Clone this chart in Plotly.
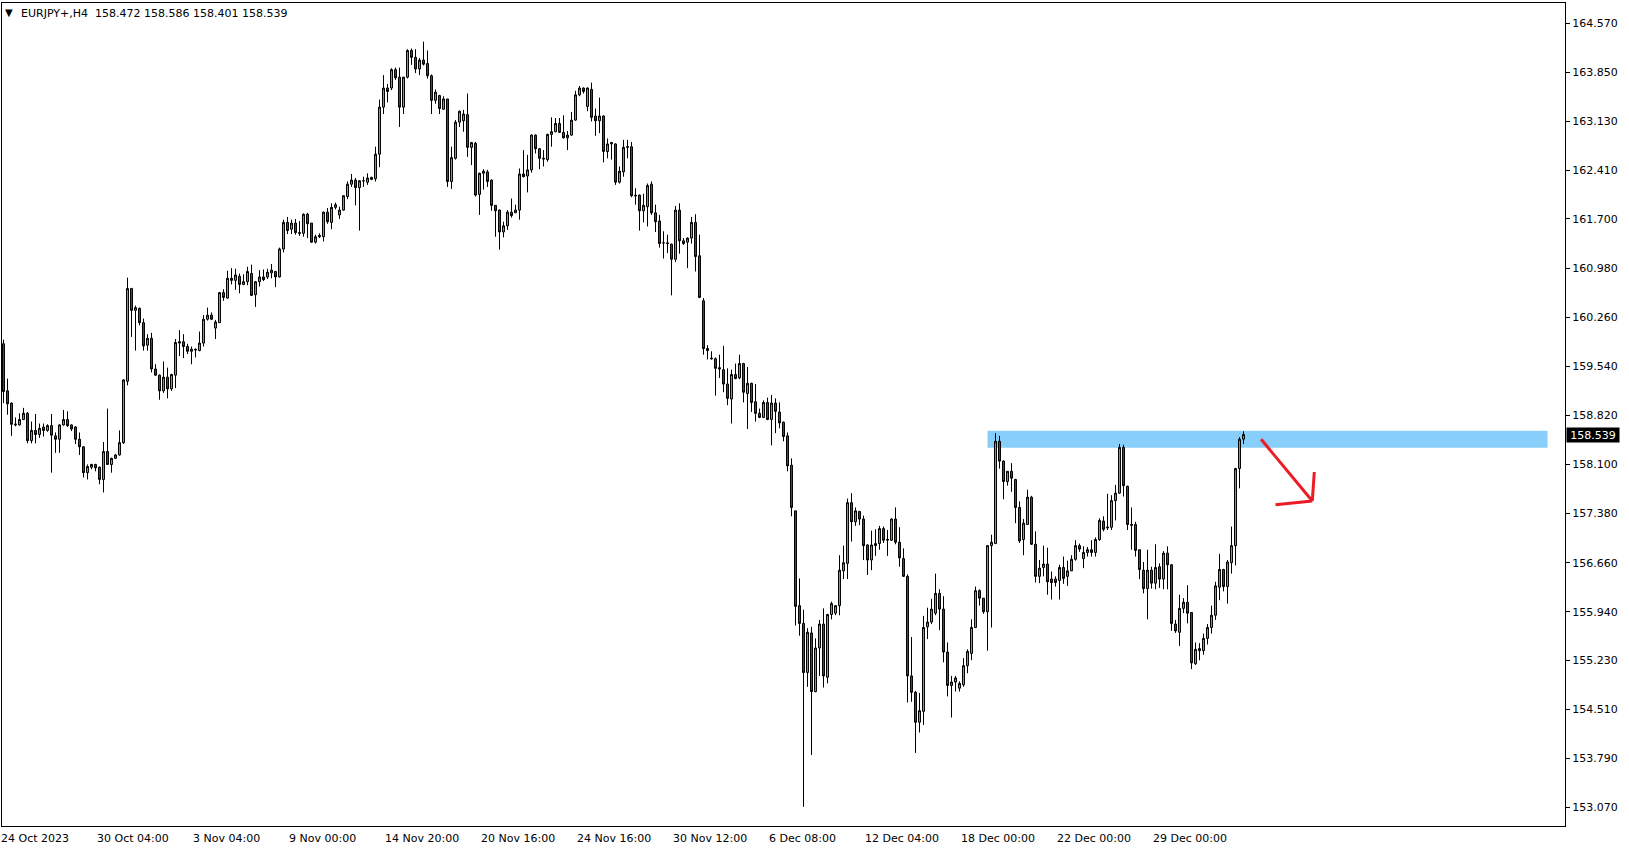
import plotly.graph_objects as go

# ---------------- data (EURJPY+, H4) ----------------
opens = [
159.87,159.18,159.00,158.68,158.68,158.76,158.85,158.45,158.60,158.54,
158.65,158.60,158.67,158.52,158.47,158.68,158.76,158.68,158.65,158.47,
158.36,157.98,158.06,158.10,158.06,157.88,158.29,158.10,158.19,158.24,
158.42,159.32,160.68,160.36,160.39,160.18,159.85,159.95,159.50,159.41,
159.18,159.38,159.21,159.41,159.88,159.90,159.83,159.76,159.79,159.77,
159.88,160.23,160.29,160.10,160.18,160.62,160.54,160.83,160.80,160.86,
160.74,160.78,160.90,160.59,160.78,160.85,160.85,160.91,160.93,160.85,
161.26,161.65,161.55,161.64,161.50,161.49,161.77,161.64,161.36,161.44,
161.44,161.80,161.65,161.87,161.76,161.83,162.03,162.21,162.27,162.16,
162.26,162.24,162.28,162.29,162.65,163.34,163.62,163.62,163.89,163.78,
163.34,163.78,164.17,164.07,163.90,164.03,163.98,163.80,163.44,163.51,
163.31,163.46,162.25,162.59,163.12,163.14,163.23,162.75,162.81,162.06,
162.37,162.39,162.27,161.90,161.83,161.51,161.60,161.80,161.79,161.83,
162.36,162.33,162.42,162.93,162.73,162.59,162.57,162.94,162.98,163.10,
162.97,162.89,162.93,163.15,163.52,163.62,163.35,163.60,163.21,163.14,
163.21,162.69,162.80,162.80,162.24,162.39,162.75,162.76,162.05,162.05,
161.82,161.88,162.21,161.79,161.67,161.35,161.35,161.33,161.11,161.83,
161.38,161.36,161.42,161.65,161.16,160.50,159.80,159.66,159.65,159.52,
159.49,159.28,159.06,159.42,159.37,159.58,159.14,159.29,159.02,158.85,
158.79,159.01,158.76,159.00,158.87,158.72,158.52,158.09,157.42,156.03,
155.77,155.05,155.63,154.77,155.41,155.76,154.98,155.90,155.92,156.03,
156.54,156.65,157.54,157.26,157.41,157.30,156.92,156.70,156.91,156.94,
157.16,156.99,156.99,157.30,156.96,156.72,156.46,155.00,154.76,154.32,
154.48,155.72,155.79,155.92,156.21,155.98,155.35,154.86,154.91,154.82,
154.87,155.15,155.33,155.71,156.25,156.14,155.94,156.91,156.94,158.44,
158.15,157.85,158.00,157.88,157.47,157.00,157.22,157.62,156.93,156.46,
156.59,156.64,156.42,156.42,156.40,156.59,156.46,156.54,156.71,156.91,
156.72,156.81,156.85,156.81,157.00,157.27,157.17,157.18,157.57,157.68,
158.35,157.78,157.22,157.22,156.85,156.55,156.28,156.55,156.36,156.60,
156.42,156.80,156.63,155.76,155.64,155.99,156.08,155.93,155.18,155.37,
155.37,155.55,155.71,155.89,156.30,156.56,156.31,156.66,156.91,158.04,
158.472,
]
highs = [
159.93,159.36,159.01,158.79,158.85,158.93,158.87,158.73,158.84,158.70,
158.70,158.69,158.84,158.57,158.69,158.90,158.88,158.69,158.66,158.57,
158.37,158.10,158.11,158.11,158.07,158.43,158.92,158.20,158.25,158.60,
159.35,160.84,160.69,160.43,160.40,160.24,160.01,160.03,159.57,159.42,
159.61,159.52,159.43,159.94,160.07,160.01,159.87,159.83,159.80,160.05,
160.29,160.40,160.33,160.22,160.63,160.67,160.94,160.98,160.97,160.90,
160.89,161.00,161.03,160.79,160.95,160.96,160.97,161.04,160.94,161.28,
161.69,161.73,161.69,161.70,161.67,161.78,161.79,161.64,161.47,161.49,
161.81,161.86,161.93,161.94,161.88,162.05,162.25,162.36,162.30,162.27,
162.32,162.37,162.32,162.76,163.45,163.81,163.68,163.91,163.92,163.92,
163.78,164.19,164.20,164.19,164.06,164.30,164.17,163.82,163.60,163.52,
163.50,163.46,162.76,163.15,163.29,163.30,163.54,162.83,162.83,162.38,
162.43,162.42,162.28,161.90,161.84,161.66,161.83,162.00,161.91,162.44,
162.71,162.64,162.94,162.94,162.74,162.71,162.95,163.19,163.18,163.18,
163.22,162.99,163.27,163.58,163.65,163.63,163.63,163.70,163.32,163.48,
163.22,162.88,162.83,162.81,162.47,162.86,162.86,162.83,162.15,162.06,
162.07,162.22,162.25,161.91,161.76,161.52,161.47,161.34,161.89,161.93,
161.42,161.43,161.73,161.77,161.47,160.54,159.85,159.76,159.67,159.71,
159.84,159.51,159.49,159.58,159.71,159.59,159.53,159.30,159.28,158.92,
159.04,159.08,159.12,159.07,159.01,158.73,158.57,158.19,157.42,156.43,
155.97,155.70,155.72,155.55,155.82,155.99,155.91,156.09,156.04,156.77,
156.91,157.60,157.68,157.47,157.42,157.35,156.93,157.13,157.15,157.20,
157.19,157.14,157.31,157.47,157.18,156.87,156.49,155.57,154.78,154.75,
155.88,156.00,156.13,156.50,156.27,156.17,155.49,155.00,155.00,154.92,
155.26,155.39,155.83,156.31,156.27,156.14,156.92,157.07,158.56,158.52,
158.16,158.00,158.12,157.89,157.56,157.30,157.73,157.64,157.12,156.70,
156.91,156.88,156.53,156.46,156.63,156.75,156.69,156.77,156.99,156.94,
156.90,156.89,156.99,157.03,157.31,157.34,157.67,157.65,157.80,158.40,
158.39,157.79,157.47,157.26,156.85,156.67,156.85,156.60,156.93,156.65,
156.83,156.90,156.64,155.82,156.19,156.14,156.33,155.93,155.49,155.48,
155.62,155.76,156.03,156.38,156.79,156.57,156.70,157.19,158.05,158.50,
158.586,
]
lows = [
159.00,158.83,158.52,158.66,158.67,158.75,158.41,158.41,158.41,158.49,
158.51,158.58,157.98,158.27,158.27,158.67,158.65,158.59,158.40,158.24,
157.91,157.88,158.03,158.00,157.81,157.69,158.10,157.98,158.18,158.23,
158.40,159.26,159.97,159.77,160.14,159.77,159.77,159.45,159.40,159.05,
159.15,159.07,159.18,159.22,159.69,159.66,159.72,159.57,159.67,159.76,
159.83,160.21,160.22,159.94,160.18,160.50,160.53,160.74,160.66,160.61,
160.73,160.73,160.57,160.41,160.71,160.79,160.82,160.83,160.70,160.84,
161.21,161.48,161.48,161.47,161.45,161.44,161.42,161.35,161.34,161.42,
161.37,161.63,161.55,161.84,161.70,161.82,161.99,162.17,161.90,161.53,
162.17,162.20,162.27,162.25,162.46,163.24,163.41,163.59,163.74,163.05,
163.24,163.76,163.96,163.84,163.81,163.95,163.76,163.24,163.39,163.24,
163.30,162.17,162.14,162.57,163.05,162.98,162.61,162.49,162.03,161.76,
162.13,162.17,161.82,161.44,161.25,161.43,161.54,161.72,161.79,161.69,
162.31,162.09,162.38,162.66,162.43,162.47,162.54,162.76,162.97,162.96,
162.88,162.71,162.92,163.14,163.50,163.54,163.28,163.13,162.92,162.96,
162.53,162.59,162.57,162.20,162.22,162.32,162.59,162.02,161.91,161.53,
161.65,161.59,161.76,161.51,161.28,161.12,161.20,160.58,161.07,161.19,
161.32,160.98,161.34,160.93,160.54,159.71,159.64,159.64,159.11,159.37,
159.16,158.97,158.70,159.35,159.35,159.01,158.62,158.87,158.73,158.78,
158.78,158.75,158.38,158.56,158.63,158.44,158.00,157.34,155.74,155.59,
153.08,154.84,153.84,154.76,155.00,154.83,154.89,155.83,155.89,155.89,
156.42,156.42,156.97,157.20,157.21,156.70,156.48,156.55,156.76,156.85,
156.95,156.76,156.98,156.93,156.60,156.45,154.61,154.62,153.87,154.17,
154.28,155.54,155.76,155.89,155.67,155.20,154.70,154.39,154.77,154.77,
154.84,155.04,155.23,155.70,156.03,155.91,155.37,155.71,156.94,158.04,
157.59,157.79,157.70,157.24,156.95,156.77,157.22,156.92,156.37,156.36,
156.46,156.19,156.12,156.31,156.12,156.35,156.32,156.54,156.69,156.82,
156.58,156.75,156.75,156.75,156.98,157.12,157.14,157.14,157.28,157.67,
157.63,157.14,156.85,156.75,156.42,156.21,155.83,156.28,156.27,156.29,
156.27,156.27,155.66,155.63,155.44,155.92,155.77,155.10,155.16,155.23,
155.31,155.46,155.62,155.82,156.11,156.24,156.06,156.50,156.62,157.75,
158.401,
]
closes = [
159.17,158.99,158.69,158.69,158.76,158.85,158.45,158.60,158.54,158.63,
158.60,158.67,158.53,158.47,158.68,158.76,158.67,158.62,158.47,158.36,
157.98,158.07,158.10,158.05,157.88,158.29,158.10,158.19,158.24,158.42,
159.34,160.68,160.36,160.40,160.18,159.84,159.95,159.50,159.41,159.18,
159.38,159.21,159.42,159.89,159.90,159.83,159.76,159.79,159.78,159.88,
160.23,160.29,160.23,160.19,160.62,160.55,160.83,160.80,160.88,160.74,
160.78,160.93,160.58,160.78,160.85,160.81,160.92,160.95,160.85,161.26,
161.65,161.53,161.64,161.50,161.49,161.77,161.63,161.36,161.44,161.46,
161.80,161.66,161.87,161.91,161.83,162.04,162.21,162.27,162.16,162.26,
162.26,162.30,162.31,162.65,163.34,163.62,163.57,163.89,163.77,163.34,
163.78,164.17,164.07,163.90,164.03,163.97,163.80,163.44,163.56,163.32,
163.46,162.25,162.60,163.12,163.28,163.24,162.75,162.82,162.05,162.37,
162.40,162.25,161.90,161.82,161.51,161.60,161.80,161.75,161.83,162.36,
162.32,162.42,162.93,162.73,162.59,162.58,162.94,162.98,163.10,162.97,
162.89,162.93,163.15,163.52,163.62,163.57,163.62,163.19,163.14,163.21,
162.69,162.80,162.82,162.24,162.40,162.75,162.76,162.04,162.04,161.82,
161.90,162.19,161.79,161.66,161.34,161.35,161.34,161.11,161.83,161.38,
161.34,161.42,161.65,161.15,160.55,159.80,159.77,159.65,159.51,159.50,
159.28,159.07,159.42,159.36,159.58,159.16,159.29,159.01,158.85,158.79,
159.01,158.76,159.00,158.88,158.71,158.51,158.08,157.47,156.02,155.77,
155.05,155.64,154.77,155.41,155.76,155.00,155.90,156.06,156.03,156.55,
156.66,157.54,157.26,157.42,157.30,156.91,156.70,156.92,156.94,157.16,
156.99,157.00,157.30,156.96,156.73,156.46,155.00,154.76,154.32,154.49,
155.71,155.79,155.98,156.21,155.98,155.35,154.86,154.91,154.97,154.89,
155.15,155.36,155.71,156.25,156.14,155.94,156.91,156.96,158.44,158.15,
157.85,158.00,157.90,157.47,156.98,157.24,157.62,156.93,156.46,156.58,
156.64,156.38,156.37,156.37,156.59,156.43,156.54,156.71,156.91,156.86,
156.81,156.85,156.81,157.00,157.28,157.15,157.18,157.57,157.68,158.35,
157.79,157.22,157.21,156.84,156.56,156.28,156.55,156.36,156.59,156.42,
156.80,156.63,155.77,155.66,155.99,156.08,155.92,155.19,155.39,155.40,
155.55,155.71,155.89,156.32,156.56,156.31,156.67,156.91,158.04,158.47,
158.539,
]

time_labels = ["24 Oct 2023", "30 Oct 04:00", "3 Nov 04:00", "9 Nov 00:00",
               "14 Nov 20:00", "20 Nov 16:00", "24 Nov 16:00", "30 Nov 12:00",
               "6 Dec 08:00", "12 Dec 04:00", "18 Dec 00:00", "22 Dec 00:00",
               "29 Dec 00:00"]
label_bars = [0, 24, 48, 72, 96, 120, 144, 168, 192, 216, 240, 264, 288]

price_ticks = [164.570, 163.850, 163.130, 162.410, 161.700, 160.980, 160.260,
               159.540, 158.820, 158.100, 157.380, 156.660, 155.940, 155.230,
               154.510, 153.790, 153.070]

symbol = "EURJPY+,H4"
last_ohlc = [158.472, 158.586, 158.401, 158.539]

zone_bars = [246, 386]
zone_prices = [158.346, 158.595]

# hand-drawn red arrow (bar index, price)
arrow_tail = (314.4, 158.47)
arrow_tip = (327.2, 157.565)
arrow_head_a = (327.7, 157.99)
arrow_head_b = (318.0, 157.51)

FONT = "DejaVu Sans"
x_vals = list(range(len(opens)))

fig = go.Figure()
fig.add_trace(go.Candlestick(
    x=x_vals, open=opens, high=highs, low=lows, close=closes,
    increasing=dict(line=dict(color="black", width=1), fillcolor="#00FF00"),
    decreasing=dict(line=dict(color="black", width=1), fillcolor="#FF0000"),
    whiskerwidth=0, hoverinfo="skip", showlegend=False,
))

shapes = [
    dict(type="rect", xref="x", yref="y", x0=zone_bars[0], x1=zone_bars[1],
         y0=zone_prices[0], y1=zone_prices[1], fillcolor="#87CEFA",
         line=dict(width=0), layer="below"),
]
red = "#ED1C24"
for a, b in [(arrow_tail, arrow_tip), (arrow_head_a, arrow_tip), (arrow_head_b, arrow_tip)]:
    shapes.append(dict(type="line", xref="x", yref="y", x0=a[0], y0=a[1],
                       x1=b[0], y1=b[1], line=dict(color=red, width=3)))

annotations = []
for b, t in zip(label_bars, time_labels):
    annotations.append(dict(x=b - 0.2, y=0, xref="x", yref="paper", text=t,
                            showarrow=False, xanchor="left", yanchor="top",
                            xshift=-4, yshift=-4, font=dict(family=FONT, size=11, color="black")))

header = "\u00a0\u00a0".join([symbol, " ".join(f"{v:.3f}" for v in last_ohlc)])
annotations.append(dict(x=(18.5 - 2) / 1563, y=(826 - 13) / 823, xref="paper", yref="paper",
                        text=header, showarrow=False, xanchor="left", yanchor="middle",
                        font=dict(family=FONT, size=11, color="black")))
annotations.append(dict(x=(2.5 - 2) / 1563, y=(826 - 12.5) / 823, xref="paper", yref="paper",
                        text="\u25bc", showarrow=False, xanchor="left", yanchor="middle",
                        font=dict(family=FONT, size=10, color="black")))
annotations.append(dict(x=1.0, y=last_ohlc[3], xref="paper", yref="y",
                        text=f"{last_ohlc[3]:.3f}", showarrow=False, xanchor="left",
                        yanchor="middle", xshift=1, width=52, height=14, borderpad=0,
                        bgcolor="black", font=dict(family=FONT, size=11, color="white")))

fig.update_layout(
    width=1629, height=850,
    margin=dict(l=2, r=64, t=3, b=24, autoexpand=False),
    paper_bgcolor="white", plot_bgcolor="white",
    showlegend=False,
    boxgap=0.3,
    font=dict(family=FONT, size=11, color="black"),
    xaxis=dict(range=[-0.375, 390.375], showgrid=False, zeroline=False,
               showticklabels=False, ticks="", showline=True, linecolor="black",
               linewidth=1, mirror=True, rangeslider=dict(visible=False),
               fixedrange=True),
    yaxis=dict(range=[152.799, 164.867], side="right", showgrid=False,
               zeroline=False, tickmode="array", tickvals=price_ticks,
               ticktext=[f"{v:.3f}" for v in price_ticks], ticks="outside",
               ticklen=4, tickcolor="black", showline=True, linecolor="black",
               linewidth=1, mirror=True, tickfont=dict(family=FONT, size=11, color="black"),
               fixedrange=True),
    shapes=shapes,
    annotations=annotations,
)

fig.write_html("out.html", config={"displayModeBar": False},
               post_script="document.body.style.margin='0';document.body.style.overflow='hidden';")
